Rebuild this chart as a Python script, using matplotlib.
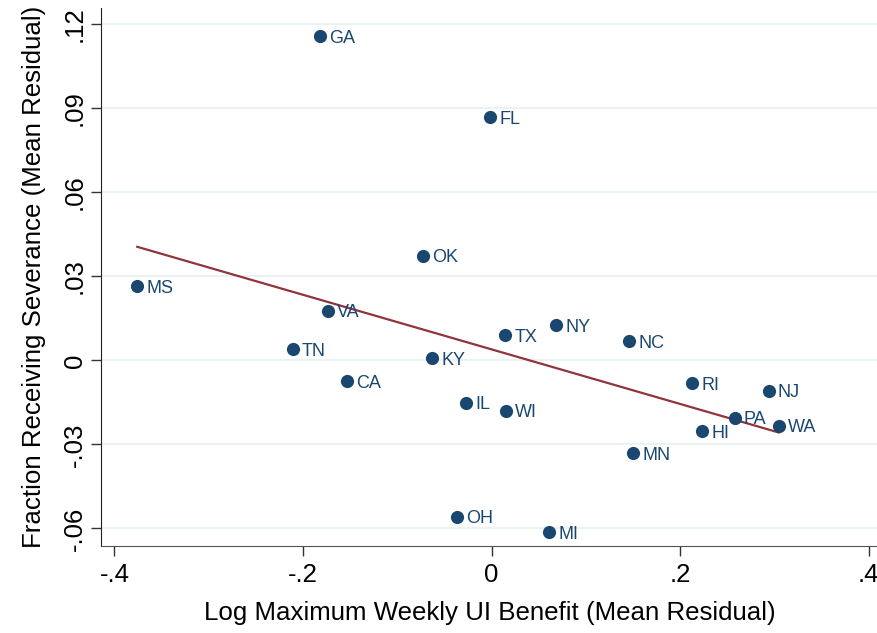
import matplotlib

matplotlib.use("Agg")
import matplotlib.pyplot as plt
import numpy as np

# state residuals
states = ["GA", "MS", "VA", "OK", "FL", "TN", "CA", "KY", "TX", "NY", "NC",
          "IL", "WI", "RI", "NJ", "PA", "WA", "HI", "MN", "OH", "MI"]
benefit = [-0.1823, -0.3758, -0.1738, -0.0724, -0.0016, -0.2110, -0.1537,
           -0.0631, 0.0147, 0.0684, 0.1462, -0.0271, 0.0154, 0.2127, 0.2941,
           0.2580, 0.3047, 0.2233, 0.1505, -0.0363, 0.0614]
severance = [0.1158, 0.0265, 0.0177, 0.0374, 0.0869, 0.0039, -0.0074, 0.0007,
             0.0089, 0.0126, 0.0069, -0.0151, -0.0180, -0.0082, -0.0108,
             -0.0205, -0.0233, -0.0253, -0.0332, -0.0559, -0.0614]

x_ticks = [-0.4, -0.2, 0, 0.2, 0.4]
x_tick_labels = ["-.4", "-.2", "0", ".2", ".4"]
y_ticks = [-0.06, -0.03, 0, 0.03, 0.06, 0.09, 0.12]
y_tick_labels = ["-.06", "-.03", "0", ".03", ".06", ".09", ".12"]

navy = "#1a476f"
maroon = "#90353b"

plt.rcParams["font.family"] = ["Liberation Sans", "DejaVu Sans"]

fig = plt.figure(figsize=(8.78, 6.33), dpi=100)
ax = fig.add_axes([0.115, 0.1374, 0.885, 0.85])

x = np.array(benefit)
y = np.array(severance)

# linear fit across the observed range
slope, intercept = np.polyfit(x, y, 1)
xs = np.array([x.min(), x.max()])
ax.plot(xs, intercept + slope * xs, color=maroon, lw=1.6, zorder=2)

ax.scatter(x, y, s=90, color=navy, zorder=3, linewidths=0)
for name, xi, yi in zip(states, x, y):
    ax.annotate(name, (xi, yi), xytext=(6.5, -1.5), textcoords="offset points",
                ha="left", va="center", fontsize=13, color=navy)

ax.set_xlim(-0.4143, 0.410)
ax.set_ylim(-0.0663, 0.1258)

ax.set_xticks(x_ticks)
ax.set_xticklabels(x_tick_labels)
ax.set_yticks(y_ticks)
ax.set_yticklabels(y_tick_labels, rotation=90, va="center")
ax.tick_params(axis="both", labelsize=18.5, direction="out", length=7,
               width=1, color="#333333")
ax.tick_params(axis="x", pad=5)
ax.tick_params(axis="y", pad=3)

ax.grid(axis="y", color="#e8f0f0", lw=1.2)
ax.set_axisbelow(True)

for side in ["top", "right"]:
    ax.spines[side].set_visible(False)
ax.spines["left"].set_color("#222222")
ax.spines["bottom"].set_color("#555555")

ax.set_xlabel("Log Maximum Weekly UI Benefit (Mean Residual)", fontsize=18.6,
              labelpad=10)
ax.set_ylabel("Fraction Receiving Severance (Mean Residual)", fontsize=18.6,
              labelpad=12)

fig.savefig("out.png", dpi=100)
